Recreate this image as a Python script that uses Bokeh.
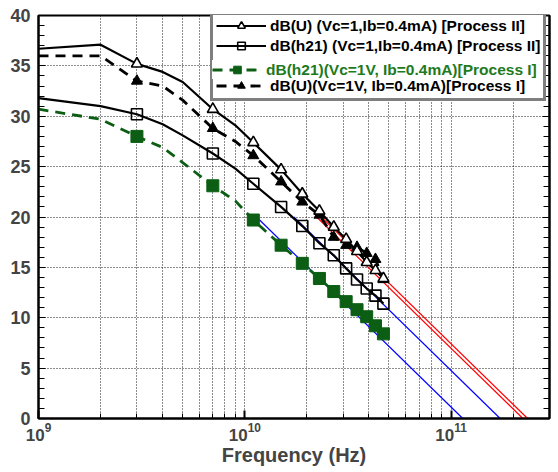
import math
from bokeh.plotting import figure
from bokeh.models import (LinearAxis, FixedTicker, SingleIntervalTicker, Legend,
                          LegendItem, ColumnDataSource)
from bokeh.embed import file_html
from bokeh.resources import INLINE

# ---------------- data ----------------
freq_ghz = [1, 2, 3, 4, 5, 7, 9, 11, 15, 19, 23, 27, 31, 35, 39, 43, 47]
u_proc2 = [36.7, 37.1, 35.2, 34.4, 33.4, 30.7, 29.1, 27.4, 24.7, 22.3, 20.6, 19.0, 17.8, 16.6, 15.5, 14.7, 13.9]
h21_proc2 = [31.8, 31.0, 30.2, 29.2, 28.1, 26.3, 24.8, 23.3, 21.0, 19.1, 17.4, 16.2, 14.9, 13.8, 12.9, 12.2, 11.4]
h21_proc1 = [30.7, 29.7, 28.0, 26.9, 25.4, 23.1, 21.6, 19.7, 17.2, 15.4, 13.9, 12.6, 11.6, 10.8, 10.1, 9.2, 8.4]
u_proc1 = [36.0, 36.0, 33.5, 33.0, 31.6, 28.8, 27.5, 26.1, 23.5, 21.5, 20.2, 18.0, 17.2, 17.0, 16.4, 15.8, 13.8]
marker_ghz = [3, 7, 11, 15, 19, 23, 27, 31, 35, 39, 43, 47]

# -20 dB/decade extrapolations (unity-gain frequencies, Hz)
ft_h21_hz = [1.14e11, 1.73e11]
fmax_u_hz = [2.23e11, 2.35e11]

labels = ["dB(U) (Vc=1,Ib=0.4mA) [Process II]",
          "dB(h21) (Vc=1,Ib=0.4mA) [Process II]",
          "dB(h21)(Vc=1V, Ib=0.4mA)[Process I]",
          "dB(U)(Vc=1V, Ib=0.4mA)[Process I]"]

x_major = [1e9, 1e10, 1e11]
x_minor = [2e9, 3e9, 4e9, 5e9, 6e9, 7e9, 8e9, 9e9,
           2e10, 3e10, 4e10, 5e10, 6e10, 7e10, 8e10, 9e10, 2e11, 3e11]

GREEN = "#0b5e13"
GREEN_TXT = "#1d7a1d"
FONT = "Liberation Sans"

freq_hz = [f * 1e9 for f in freq_ghz]
def src(vals):
    return ColumnDataSource(dict(x=freq_hz, y=vals))
def msrc(vals):
    xs = [f * 1e9 for f, _ in zip(freq_ghz, vals) if f in marker_ghz]
    ys = [v for f, v in zip(freq_ghz, vals) if f in marker_ghz]
    return ColumnDataSource(dict(x=xs, y=ys))

p = figure(width=558, height=472, x_axis_type="log", x_range=(1e9, 3e11), y_range=(0, 40),
           output_backend="svg", toolbar_location=None,
           min_border_left=38, min_border_right=9, min_border_top=15, min_border_bottom=54)
p.background_fill_color = "white"
p.border_fill_color = "white"
p.outline_line_color = "black"
p.outline_line_width = 2

# x axis
p.xaxis.ticker = FixedTicker(ticks=x_major, minor_ticks=x_minor)
p.xaxis.major_tick_in = 8
p.xaxis.major_tick_out = 0
p.xaxis.minor_tick_in = 5
p.xaxis.minor_tick_out = 0
p.xaxis.axis_line_width = 2
p.xaxis.major_tick_line_width = 2
p.xaxis.major_label_text_font = FONT
p.xaxis.major_label_text_font_style = "bold"
p.xaxis.major_label_text_font_size = "17px"
p.xaxis.major_label_standoff = 4
p.xaxis.axis_label = "Frequency (Hz)"
p.xaxis.axis_label_text_font = FONT
p.xaxis.axis_label_text_font_style = "bold"
p.xaxis.axis_label_text_font_size = "20px"
p.xaxis.axis_label_standoff = 0

# y axis
yt = SingleIntervalTicker(interval=5, num_minor_ticks=5)
p.yaxis.ticker = yt
p.yaxis.major_tick_in = 7
p.yaxis.major_tick_out = 0
p.yaxis.minor_tick_in = 6
p.yaxis.minor_tick_out = 0
p.yaxis.axis_line_width = 2
p.yaxis.major_label_text_font = FONT
p.yaxis.major_label_text_font_style = "bold"
p.yaxis.major_label_text_font_size = "18px"
p.yaxis.major_label_standoff = 8

ra = LinearAxis(ticker=yt, major_tick_in=7, major_tick_out=0, minor_tick_in=6, minor_tick_out=0,
                axis_line_width=2, major_label_text_font_size="0px", major_label_text_color=None,
                major_label_standoff=0)
p.add_layout(ra, "right")

# grids
for g in (p.xgrid, p.ygrid):
    g.grid_line_color = "black"
    g.grid_line_dash = "1 2"
    g.grid_line_width = 1
    g.grid_line_alpha = 0.9
p.xgrid.ticker = p.xaxis.ticker
p.xgrid.minor_grid_line_color = "black"
p.xgrid.minor_grid_line_dash = "1 2"
p.xgrid.minor_grid_line_alpha = 0.9
p.ygrid.ticker = yt

# extrapolation lines
for ft in ft_h21_hz:
    p.line([ft / 10, ft], [20 * math.log10(10), 20 * math.log10(1)], line_color="#0000ff", line_width=1.2)
for ft in fmax_u_hz:
    p.line([ft / 10, ft], [20 * math.log10(10), 20 * math.log10(1)], line_color="#ff0000", line_width=1.2)

# data series
lB = p.line("x", "y", source=src(h21_proc2), line_color="black", line_width=2.2)
lC = p.line("x", "y", source=src(h21_proc1), line_color=GREEN, line_width=2.8, line_dash="10 7")
lD = p.line("x", "y", source=src(u_proc1), line_color="black", line_width=2.8, line_dash="10 7")
lA = p.line("x", "y", source=src(u_proc2), line_color="black", line_width=2.2)

sC = p.scatter("x", "y", source=msrc(h21_proc1), marker="square", size=12,
               fill_color=GREEN, line_color=GREEN, line_width=1)
sB = p.scatter("x", "y", source=msrc(h21_proc2), marker="square", size=11,
               fill_color=None, line_color="black", line_width=1.6)
sD = p.scatter("x", "y", source=msrc(u_proc1), marker="triangle", size=11,
               fill_color="black", line_color="black", line_width=1)
sA = p.scatter("x", "y", source=msrc(u_proc2), marker="triangle", size=11,
               fill_color="white", line_color="black", line_width=1.6)

common = dict(label_text_font=FONT, label_text_font_style="bold", label_text_font_size="15.5px",
              glyph_width=50, glyph_height=19, label_height=19, label_standoff=4,
              spacing=1, margin=0, background_fill_color="white", background_fill_alpha=1.0)

legend = Legend(items=[LegendItem(label=labels[0], renderers=[lA, sA]),
                       LegendItem(label=labels[1], renderers=[lB, sB]),
                       LegendItem(label="", renderers=[lC, sC]),
                       LegendItem(label=labels[3], renderers=[lD, sD])],
                location=(172, 317), padding=3, border_line_color="black",
                border_line_width=3, label_text_color="black", **common)
p.add_layout(legend)

legend_g = Legend(items=[LegendItem(label=labels[2], renderers=[lC, sC])],
                  location=(174, 339), padding=1, border_line_color=None,
                  label_text_color=GREEN_TXT, **common)
p.add_layout(legend_g)

open("out.html", "w").write(file_html(p, INLINE, title="dB vs frequency"))
